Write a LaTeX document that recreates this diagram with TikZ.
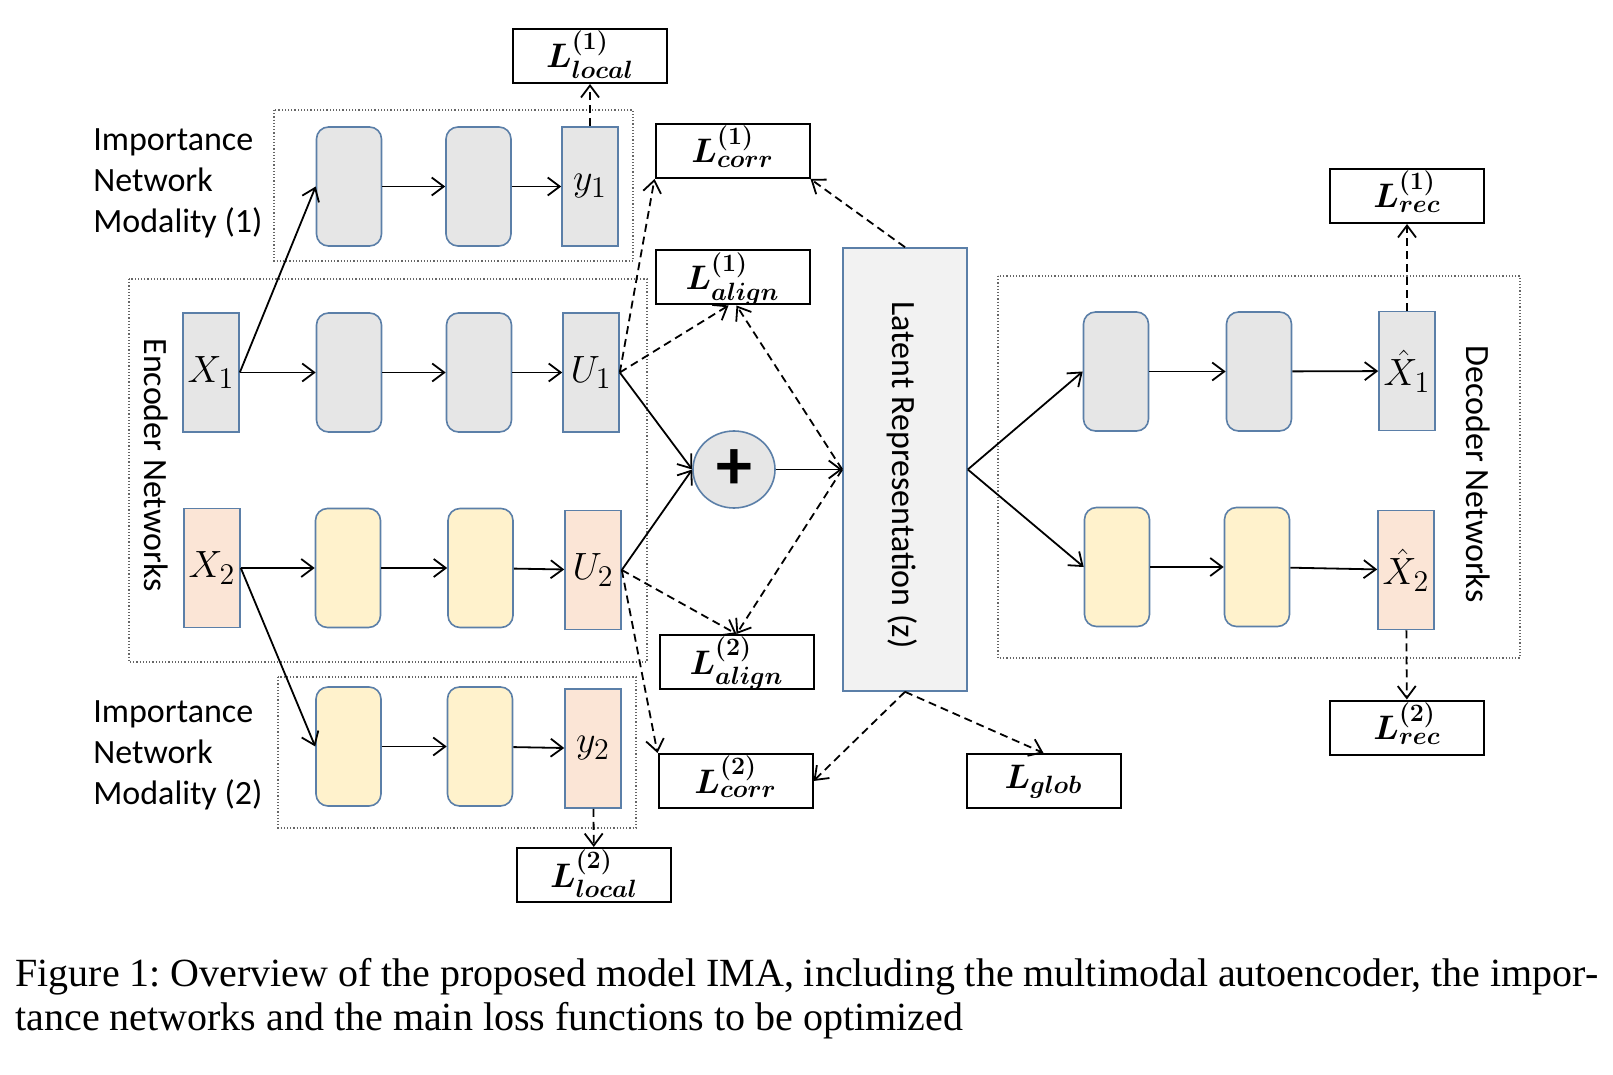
\documentclass[tikz,border=0pt]{standalone}
\usepackage{fix-cm}
\usepackage{amsmath}
\usepackage[no-math]{fontspec}
\setmainfont{Carlito}
\newfontfamily\capfont{Liberation Serif}
\usetikzlibrary{arrows.meta,shapes.geometric}
\DeclareMathSizes{19}{19}{15}{10}
\DeclareMathSizes{17}{17}{12.5}{9}

\definecolor{gfill}{HTML}{E6E6E6}
\definecolor{yfill}{HTML}{FFF2CC}
\definecolor{pfill}{HTML}{FBE5D6}
\definecolor{zfill}{HTML}{F2F2F2}
\definecolor{edgeblue}{HTML}{5B7FA8}

\begin{document}
\begin{tikzpicture}[x=0.5pt,y=-0.5pt,
    layer/.style={draw=edgeblue,line width=0.8pt,rounded corners=6pt,
      minimum width=32.5pt,minimum height=59.5pt,inner sep=0pt},
    port/.style={draw=edgeblue,line width=0.8pt,minimum width=28pt,
      minimum height=59.5pt,inner sep=0pt,font=\fontsize{19}{19}\selectfont},
    loss/.style={draw=black,line width=1pt,minimum width=77pt,
      minimum height=27pt,inner sep=0pt,text height=19.5pt,text depth=7.5pt,
      font=\fontsize{17}{17}\selectfont\boldmath},
    frame/.style={draw=black!60,densely dotted,line width=0.6pt},
    arr/.style={line width=0.9pt,-{Straight Barb[length=6pt,width=9pt]}},
    darr/.style={arr,dash pattern=on 4pt off 2.5pt},
    label/.style={font=\fontsize{17}{20.5}\selectfont,inner sep=0pt}]

  \useasboundingbox (0,0) rectangle (1613,1075);

  % dotted frames
  \draw[frame] (274,110) rectangle (633,261);
  \draw[frame] (129,279) rectangle (647,662);
  \draw[frame] (278,677) rectangle (636,828);
  \draw[frame] (998,276) rectangle (1520,658);

  % importance network (1)
  \node[layer,fill=gfill] (i1a) at (349,186.5) {};
  \node[layer,fill=gfill] (i1b) at (478.5,186.5) {};
  \node[port,fill=gfill] (y1) at (590,186.5) {$y_1$};

  % encoders
  \node[port,fill=gfill] (X1) at (211,372.5) {$X_1$};
  \node[layer,fill=gfill] (e1a) at (349,372.5) {};
  \node[layer,fill=gfill] (e1b) at (479,372.5) {};
  \node[port,fill=gfill] (U1) at (591,372.5) {$U_1$};

  \node[port,fill=pfill] (X2) at (212,568) {$X_2$};
  \node[layer,fill=yfill] (e2a) at (348,568) {};
  \node[layer,fill=yfill] (e2b) at (480.5,568) {};
  \node[port,fill=pfill] (U2) at (593,570) {$U_2$};

  % importance network (2)
  \node[layer,fill=yfill] (i2a) at (348.5,746.5) {};
  \node[layer,fill=yfill] (i2b) at (480,746.5) {};
  \node[port,fill=pfill] (y2) at (593,748.5) {$y_2$};

  % fusion and latent
  \node[ellipse,draw=edgeblue,line width=0.8pt,fill=gfill,minimum width=41pt,
    minimum height=38.5pt,inner sep=0pt] (plus) at (734,469.5)
    {\fontsize{36}{36}\selectfont\bfseries +};
  \node[draw=edgeblue,line width=0.8pt,fill=zfill,minimum width=62pt,
    minimum height=221.5pt] (Lz) at (905,469.5) {};
  \node[label,rotate=-90] (Lztext) at (902,475) {Latent Representation (z)};

  % decoders
  \node[layer,fill=gfill] (d1a) at (1116,371.5) {};
  \node[layer,fill=gfill] (d1b) at (1259,371.5) {};
  \node[port,fill=gfill] (Xh1) at (1407,371) {$\hat{X}_1$};
  \node[layer,fill=yfill] (d2a) at (1117,567) {};
  \node[layer,fill=yfill] (d2b) at (1257,567) {};
  \node[port,fill=pfill] (Xh2) at (1406,570) {$\hat{X}_2$};

  % losses
  \node[loss] (Ll1) at (590,56) {$L^{(1)}_{local}$};
  \node[loss] (Ll2) at (594,875) {$L^{(2)}_{local}$};
  \node[loss] (Lc1) at (732.5,151) {$L^{(1)}_{corr}$};
  \node[loss] (La1) at (732.5,277.5) {$L^{(1)}_{align}$};
  \node[loss] (La2) at (736.5,662) {$L^{(2)}_{align}$};
  \node[loss] (Lc2) at (735.5,781) {$L^{(2)}_{corr}$};
  \node[loss,text height=17pt,text depth=10pt] (Lg) at (1043.5,781)
    {$L_{glob}$};
  \node[loss] (Lr1) at (1407,196) {$L^{(1)}_{rec}$};
  \node[loss] (Lr2) at (1407,727.5) {$L^{(2)}_{rec}$};

  % labels
  \node[label,align=left,anchor=west] (imp1) at (93,183)
    {Importance\\Network\\Modality (1)};
  \node[label,align=left,anchor=west] (imp2) at (93,755)
    {Importance\\Network\\Modality (2)};
  \node[label,rotate=-90] (enc) at (156,465) {Encoder Networks};
  \node[label,rotate=-90] (dec) at (1478,474) {Decoder Networks};

  % solid connections
  \draw[arr] (X1.east) -- (i1a.west);
  \draw[arr] (i1a) -- (i1b); \draw[arr] (i1b) -- (y1);
  \draw[arr] (X1) -- (e1a); \draw[arr] (e1a) -- (e1b);
  \draw[arr] (e1b) -- (U1);
  \draw[arr] (X2) -- (e2a); \draw[arr] (e2a) -- (e2b);
  \draw[arr] (e2b) -- (U2);
  \draw[arr] (X2.east) -- (i2a.west);
  \draw[arr] (i2a) -- (i2b); \draw[arr] (i2b) -- (y2);
  \draw[arr] (U1.east) -- (plus.west); \draw[arr] (U2.east) -- (plus.west);
  \draw[arr] (plus) -- (Lz);
  \draw[arr] (Lz.east) -- (d1a.west); \draw[arr] (Lz.east) -- (d2a.west);
  \draw[arr] (d1a) -- (d1b); \draw[arr] (d1b) -- (Xh1);
  \draw[arr] (d2a) -- (d2b); \draw[arr] (d2b) -- (Xh2);

  % loss connections
  \draw[darr] (y1) -- (Ll1); \draw[darr] (y2) -- (Ll2);
  \draw[darr] (Xh1) -- (Lr1); \draw[darr] (Xh2) -- (Lr2);
  \draw[darr] (U1.east) -- (Lc1.south west);
  \draw[darr] (U1.east) -- ([xshift=-2pt]La1.south);
  \draw[darr] (Lz.west) -- ([xshift=2pt]La1.south);
  \draw[darr] (Lz.north) -- (Lc1.south east);
  \draw[darr] (U2.east) -- (La2.north); \draw[darr] (Lz.west) -- (La2.north);
  \draw[darr] (U2.east) -- (Lc2.north west);
  \draw[darr] (Lz.south) -- (Lc2.east); \draw[darr] (Lz.south) -- (Lg.north);

  % caption
  \node[anchor=base west,inner sep=0pt,font=\capfont\fontsize{20}{22}\selectfont]
    (cap1) at (15,986) {\frenchspacing\makebox[791.5pt][s]{Figure 1: Overview
    of the proposed model IMA, including the multimodal autoencoder, the impor-}};
  \node[anchor=base west,inner sep=0pt,font=\capfont\fontsize{20}{22}\selectfont]
    (cap2) at (15,1030) {tance networks and the main loss functions to be
    optimized};
\end{tikzpicture}
\end{document}
